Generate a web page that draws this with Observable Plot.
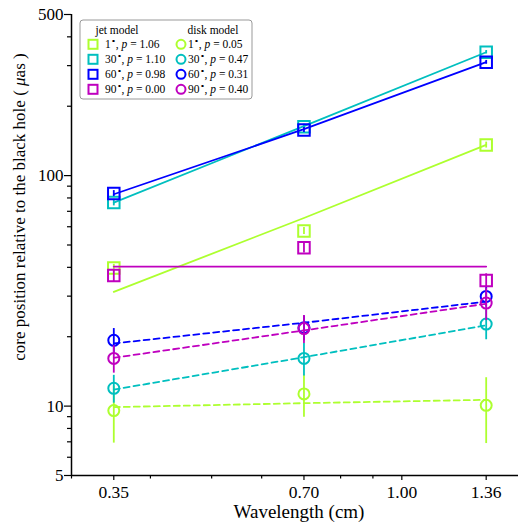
<!DOCTYPE html>
<html>
<head>
<meta charset="utf-8">
<script src="https://cdn.jsdelivr.net/npm/d3@7"></script>
<script src="https://cdn.jsdelivr.net/npm/@observablehq/plot@0.6"></script>
<style>
  html, body { margin: 0; padding: 0; background: #fff; }
  #chart { position: relative; width: 518px; height: 532px; }
  #chart svg, #chart svg text { font-family: "Liberation Serif", "Times New Roman", serif; }
</style>
</head>
<body>
<div id="chart"></div>
<script>
// ---- data ----
const wavelengths = [0.35, 0.70, 1.36];
const angleLabels = ["1", "30", "60", "90"];
const seriesColors = ["#adff2f", "#00bfbf", "#0000ff", "#bf00bf"];
const jetP = ["1.06", "1.10", "0.98", "0.00"];
const diskP = ["0.05", "0.47", "0.31", "0.40"];

// jet model (squares) and their power-law fits
const jet1 = [39.7, 57.5, 135.7];
const jet30 = [76.4, 163, 343];
const jet60 = [83.6, 157.8, 310];
const jet90 = [36.9, 48.7, 35.1];
const jetErr1 = [1.5, 2, 4];
const jetErr30 = [2.5, 4, 6];
const jetErr60 = [2.5, 4, 6];
const jetErr90 = [2.2, 2.5, 2.4];
const jetFit1 = [31.3, 65.5, 136];
const jetFit30 = [76.4, 164, 343];
const jetFit60 = [83.0, 159, 311];
const jetFit90 = [40.3, 40.3, 40.3];

// disk model (circles) and their power-law fits
const disk1 = [9.56, 11.3, 10.08];
const disk30 = [11.95, 16.1, 22.7];
const disk60 = [19.3, 21.9, 29.9];
const disk90 = [16.1, 21.7, 28.0];
const diskErr1 = [2.65, 2.35, 3.2];
const diskErr30 = [1.65, 2.6, 3.3];
const diskErr60 = [2.4, 2.7, 3.0];
const diskErr90 = [2.2, 3.0, 4.5];
const diskFit1 = [9.9, 10.3, 10.65];
const diskFit30 = [11.8, 16.3, 22.4];
const diskFit60 = [18.7, 23.0, 28.4];
const diskFit90 = [16.2, 21.3, 27.8];

const xMajorTicks = [0.35, 0.70, 1.00, 1.36];
const xMinorTicks = [0.3, 0.4, 0.5, 0.6, 0.8, 0.9];
const yMajorTicks = [5, 10, 100, 500];
const yMinorTicks = [6, 7, 8, 9, 20, 30, 40, 50, 60, 70, 80, 90, 200, 300, 400];

// ---- build tables ----
const jetVals = [jet1, jet30, jet60, jet90];
const jetErrs = [jetErr1, jetErr30, jetErr60, jetErr90];
const jetFits = [jetFit1, jetFit30, jetFit60, jetFit90];
const diskVals = [disk1, disk30, disk60, disk90];
const diskErrs = [diskErr1, diskErr30, diskErr60, diskErr90];
const diskFits = [diskFit1, diskFit30, diskFit60, diskFit90];

function rows(vals, errs, fits) {
  return wavelengths.map((w, j) => ({
    x: w, y: vals[j], lo: vals[j] - errs[j], hi: vals[j] + errs[j], fit: fits[j]
  }));
}

const marks = [];
angleLabels.forEach((a, i) => {
  const c = seriesColors[i];
  const jr = rows(jetVals[i], jetErrs[i], jetFits[i]);
  const dr = rows(diskVals[i], diskErrs[i], diskFits[i]);
  marks.push(
    Plot.line(jr, {x: "x", y: "fit", stroke: c, strokeWidth: 1.8}),
    Plot.line(dr, {x: "x", y: "fit", stroke: c, strokeWidth: 1.8, strokeDasharray: "6,4"}),
    Plot.ruleX(jr, {x: "x", y1: "lo", y2: "hi", stroke: c, strokeWidth: 1.8}),
    Plot.dot(jr, {x: "x", y: "y", symbol: "square", r: 6.5, stroke: c, strokeWidth: 2, fill: "none"}),
    Plot.ruleX(dr, {x: "x", y1: "lo", y2: "hi", stroke: c, strokeWidth: 1.8}),
    Plot.dot(dr, {x: "x", y: "y", symbol: "circle", r: 5.5, stroke: c, strokeWidth: 2, fill: "none"})
  );
});

const plot = Plot.plot({
  width: 518,
  height: 532,
  marginLeft: 71,
  marginRight: 0,
  marginTop: 14,
  marginBottom: 57,
  style: {fontFamily: "'Liberation Serif', serif", fontSize: "17px", color: "#000", background: "#fff"},
  x: {type: "log", domain: [0.3, 1.53]},
  y: {type: "log", domain: [5, 500]},
  marks: [
    Plot.axisX({ticks: xMinorTicks, tickSize: 3.5, tickFormat: () => "", label: null, strokeWidth: 1.2}),
    Plot.axisX({ticks: xMajorTicks, tickSize: 5, tickPadding: 5, tickFormat: d3.format(".2f"), label: null, fontSize: 17.5, strokeWidth: 1.2}),
    Plot.axisY({ticks: yMinorTicks, tickSize: 4, tickFormat: () => "", label: null, strokeWidth: 1.2}),
    Plot.axisY({ticks: yMajorTicks, tickSize: 7, tickPadding: 1, tickFormat: d3.format("d"), label: null, fontSize: 17, strokeWidth: 1.2}),
    ...marks,
    Plot.ruleX([0.3], {stroke: "#000", strokeWidth: 1.5}),
    Plot.ruleY([5], {stroke: "#000", strokeWidth: 1.5})
  ]
});

document.getElementById("chart").appendChild(plot);

// ---- axis titles and legend as real SVG text ----
const svg = d3.select(plot);
svg.append("text")
  .attr("x", 299).attr("y", 518)
  .attr("text-anchor", "middle")
  .attr("font-size", 19)
  .attr("fill", "#000")
  .text("Wavelength (cm)");

const yl = svg.append("text")
  .attr("transform", "translate(25,207) rotate(-90)")
  .attr("text-anchor", "middle")
  .attr("font-size", 17)
  .attr("fill", "#000");
yl.append("tspan").text("core position relative to the black hole ( ");
yl.append("tspan").attr("font-style", "italic").text("μ");
yl.append("tspan").text("as )");

const lg = svg.append("g").attr("transform", "translate(80,20)")
  .attr("font-size", 11.5).attr("fill", "#000").attr("text-anchor", "start");
lg.append("rect").attr("x", 0).attr("y", 0).attr("width", 172).attr("height", 79)
  .attr("rx", 3).attr("fill", "#fff").attr("stroke", "#999").attr("stroke-width", 1);
lg.append("text").attr("x", 37).attr("y", 14).attr("text-anchor", "middle").text("jet model");
lg.append("text").attr("x", 133).attr("y", 14).attr("text-anchor", "middle").text("disk model");

function legendText(g, x, y, angle, p) {
  const t = g.append("text").attr("x", x).attr("y", y).attr("text-anchor", "start");
  t.append("tspan").text(angle);
  t.append("tspan").attr("font-size", 8).attr("dy", -4).text("∘");
  t.append("tspan").attr("dy", 4).text(", ");
  t.append("tspan").attr("font-style", "italic").text("p");
  t.append("tspan").text(" = " + p);
}

angleLabels.forEach((a, i) => {
  const cy = 24.3 + 15 * i;
  const c = seriesColors[i];
  lg.append("rect").attr("x", 13 - 4.5).attr("y", cy - 4.5).attr("width", 9).attr("height", 9)
    .attr("fill", "none").attr("stroke", c).attr("stroke-width", 2);
  legendText(lg, 25, cy + 4, a, jetP[i]);
  lg.append("circle").attr("cx", 101).attr("cy", cy).attr("r", 4.5)
    .attr("fill", "none").attr("stroke", c).attr("stroke-width", 2);
  legendText(lg, 108, cy + 4, a, diskP[i]);
});
</script>
</body>
</html>
